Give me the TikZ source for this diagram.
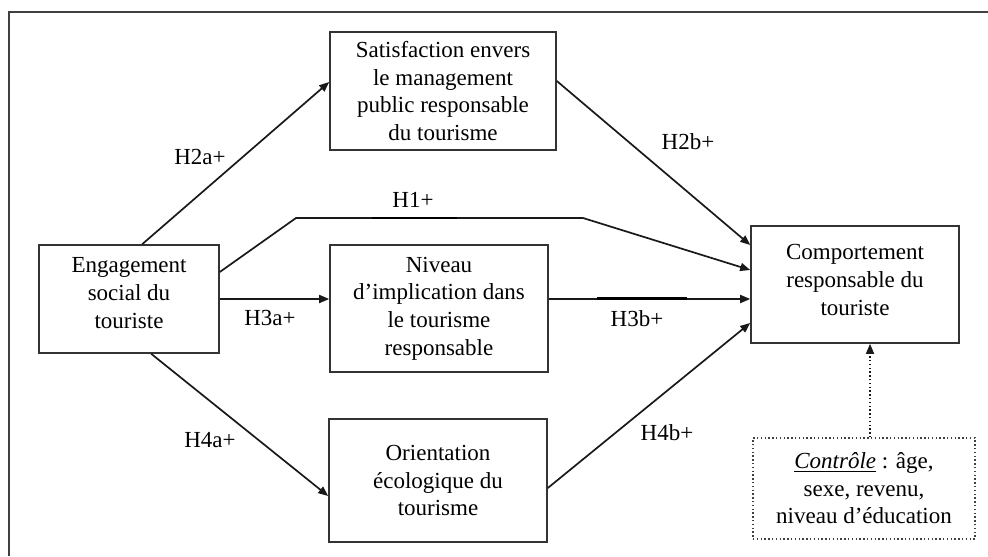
\documentclass[tikz,border=0pt]{standalone}
\usepackage{fontspec}
\setmainfont{Liberation Serif}
\usetikzlibrary{arrows.meta,calc}
\begin{document}
\begin{tikzpicture}[x=0.5pt,y=-0.5pt,
  txtfont/.style={font=\fontsize{11.5}{13.8}\selectfont},
  box/.style={draw=black!80,line width=0.8pt,rectangle,inner sep=0pt,align=center,txtfont},
  lbl/.style={txtfont,inner sep=0pt,align=center},
  conn/.style={draw=black!90,line width=0.85pt,-{Triangle[length=5pt,width=4pt]}},
  dotline/.style={line width=0.7pt,dash pattern=on 0.7pt off 1.2pt},
]
\useasboundingbox (0,0) rectangle (988,556);
% outer frame (top and left edges visible)
\draw[line width=0.9pt,black!75] (9,556) -- (9,12) -- (988,12);

% boxes
\node[box,minimum width=113pt,minimum height=59pt] (sat) at (443,91)
  {Satisfaction envers\\le management\\public responsable\\du tourisme};
\node[box,minimum width=90pt,minimum height=54pt] (eng) at (129,299) {};
\node[lbl] (engt) at (129,293) {Engagement\\social du\\touriste};
\node[box,minimum width=109pt,minimum height=63.5pt] (niv) at (439,308.5)
  {Niveau\\d’implication dans\\le tourisme\\responsable};
\node[box,minimum width=109pt,minimum height=61.5pt] (ori) at (438,480.5)
  {Orientation\\écologique du\\tourisme};
\node[box,minimum width=104pt,minimum height=58.5pt] (comp) at (855,284.5) {};
\node[lbl] (compt) at (855,280) {Comportement\\responsable du\\touriste};
\node[box,draw=black!75,dotline,minimum width=111pt,minimum height=50.5pt] (ctrl) at (864,488.5)
  {\underline{\textit{Contrôle}} : âge,\\sexe, revenu,\\niveau d’éducation};

% labels
\node[lbl] (h2a) at (200,157) {H2a+};
\node[lbl] (h2b) at (688,142) {H2b+};
\node[lbl] (h1)  at (413,200) {H1+};
\node[lbl] (h3a) at (270,318) {H3a+};
\node[lbl] (h3b) at (637,319) {H3b+};
\node[lbl] (h4a) at (210,440) {H4a+};
\node[lbl] (h4b) at (667,433) {H4b+};

% helper coordinates
\coordinate (h1a) at (296,218);
\coordinate (h1b) at (583,218);
\coordinate (cx) at (870,0);

% connectors
\draw[conn] ($(eng.north west)+(104,0)$) -- ($(sat.west)+(0,-9)$);
\draw[conn] ($(sat.east)+(0,-10)$) -- ($(comp.west)+(0,-39.5)$);
\draw[conn] ($(eng.east)+(0,-27)$) -- (h1a) -- (h1b) -- ($(comp.west)+(0,-14.5)$);
\draw[conn] (eng.east) -- (eng.east -| niv.west);
\draw[conn] (niv.east |- eng.east) -- (comp.west |- eng.east);
\draw[conn] ($(eng.south west)+(113,0)$) -- ($(ori.west)+(0,15.5)$);
\draw[conn] ($(ori.east)+(0,7.5)$) -- ($(comp.west)+(0,38.5)$);
\draw[conn,dotline] (ctrl.north -| cx) -- (comp.south -| cx);

% thicker marks on lines
\draw[line width=1.4pt] (597,298.3) -- (687,298.3);
\draw[line width=1.1pt] (372,218) -- (457,218);
\end{tikzpicture}
\end{document}
